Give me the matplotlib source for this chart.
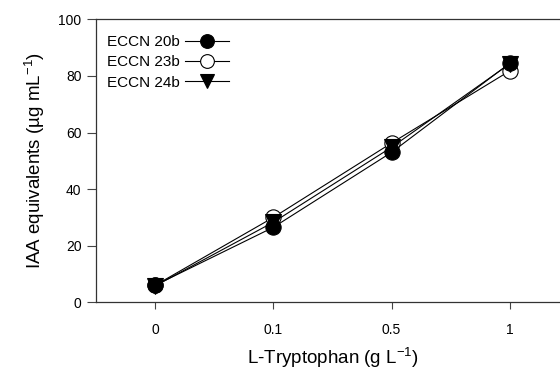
import matplotlib
matplotlib.use("Agg")
import matplotlib.pyplot as plt

plt.rcParams['font.family'] = ['Liberation Sans', 'DejaVu Sans']
plt.rcParams['mathtext.fontset'] = 'custom'
plt.rcParams['mathtext.rm'] = 'Liberation Sans'
plt.rcParams['mathtext.default'] = 'regular'

categories = ['0', '0.1', '0.5', '1']
eccn20b = [6.0, 26.5, 53.0, 84.5]
eccn23b = [6.0, 30.0, 56.3, 81.8]
eccn24b = [5.8, 28.3, 54.8, 84.3]
yticks = [0, 20, 40, 60, 80, 100]

fig = plt.figure(figsize=(5.6, 3.76), dpi=100)
ax = fig.add_axes([96/560, 73.7/376, 473/560, 283/376])
x = list(range(len(categories)))

ms = 11
ax.plot(x, eccn20b, color='black', lw=0.8, marker='o', ms=ms,
        mfc='black', mec='black', mew=0.8, label='ECCN 20b', zorder=3)
ax.plot(x, eccn23b, color='black', lw=0.8, marker='o', ms=ms,
        mfc='white', mec='black', mew=0.8, label='ECCN 23b', zorder=2)
ax.plot(x, eccn24b, color='black', lw=0.8, marker='v', ms=ms,
        mfc='black', mec='black', mew=0.8, label='ECCN 24b', zorder=4)

ax.set_xlim(-0.5, 3.5)
ax.set_ylim(0, 100)
ax.set_xticks(x)
ax.set_xticklabels(categories)
ax.set_yticks(yticks)
ax.tick_params(axis='both', direction='out', labelsize=10, width=0.8, color='#444444')
ax.tick_params(axis='y', length=6.5, pad=4)
ax.tick_params(axis='x', length=5, pad=10)
for s in ax.spines.values():
    s.set_linewidth(0.9)
    s.set_color('#333333')

ax.set_xlabel('L-Tryptophan (g L$^{-1}$)', fontsize=13.5, labelpad=6)
ax.set_ylabel('IAA equivalents (µg mL$^{-1}$)', fontsize=13.5, labelpad=8)

ax.legend(loc='upper left', frameon=False, markerfirst=False, fontsize=11,
          handlelength=2.9, handletextpad=0.35, labelspacing=0.4,
          borderpad=0.0, borderaxespad=0.0,
          bbox_to_anchor=(11/473, 1 - 16/283), markerscale=0.9)

fig.savefig('out.png', dpi=100)
